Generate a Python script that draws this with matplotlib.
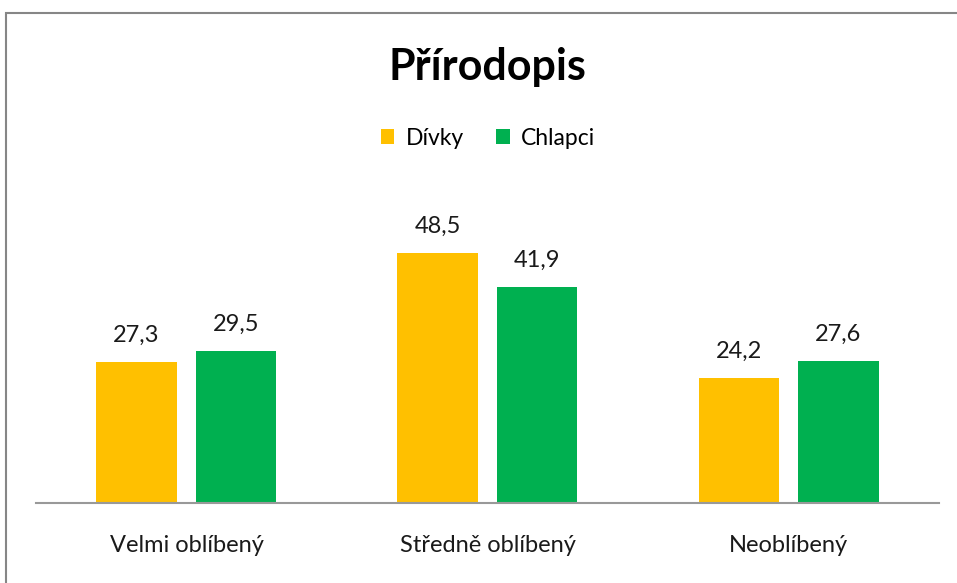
import matplotlib.pyplot as plt
import matplotlib.patches as mpatches
import numpy as np

categories = ["Velmi oblíbený", "Středně oblíbený", "Neoblíbený"]
divky = [27.3, 48.5, 24.2]
chlapci = [29.5, 41.9, 27.6]
series_names = ["Dívky", "Chlapci"]

plt.rcParams['font.family'] = ['Lato', 'DejaVu Sans']

fig = plt.figure(figsize=(9.57, 5.83), dpi=100)
ax = fig.add_axes([0.0376, 0.1372, 0.9436, 0.53])

x = np.arange(len(categories))
w = 0.266
off = 0.166
b1 = ax.bar(x - off, divky, w, color="#FFC000", label=series_names[0])
b2 = ax.bar(x + off, chlapci, w, color="#00B050", label=series_names[1])

for bars, vals in [(b1, divky), (b2, chlapci)]:
    for b, v in zip(bars, vals):
        ax.text(b.get_x() + b.get_width() / 2, v + 3.9, f"{v:.1f}".replace(".", ","),
                ha="center", va="baseline", fontsize=17, color="#1a1a1a")

ax.set_xlim(-0.5, 2.5)
ax.set_ylim(0, 60)
ax.set_xticks(x)
ax.set_xticklabels(categories, fontsize=17, color="#1a1a1a")
ax.tick_params(axis="x", length=0, pad=23)
ax.set_yticks([])
for s in ["top", "left", "right"]:
    ax.spines[s].set_visible(False)
ax.spines["bottom"].set_color("#999999")
ax.spines["bottom"].set_linewidth(1.5)

fig.text(0.509, 0.885, "Přírodopis", ha="center", va="center", fontsize=31, fontweight="bold")

fig.legend(handles=[b1, b2], loc="center", bbox_to_anchor=(0.51, 0.763), ncol=2, frameon=False,
           fontsize=16.5, handlelength=0.6, handleheight=0.6, handletextpad=0.5, columnspacing=1.4)

# chart border, clipped by the image edge on the right and bottom
fig.patches.append(mpatches.Rectangle((6 / 957, -0.05), 1.2, 1 - 13 / 583 + 0.05,
                                      transform=fig.transFigure, fill=False,
                                      edgecolor="#868686", linewidth=1.5))

fig.savefig("out.png", dpi=100)
